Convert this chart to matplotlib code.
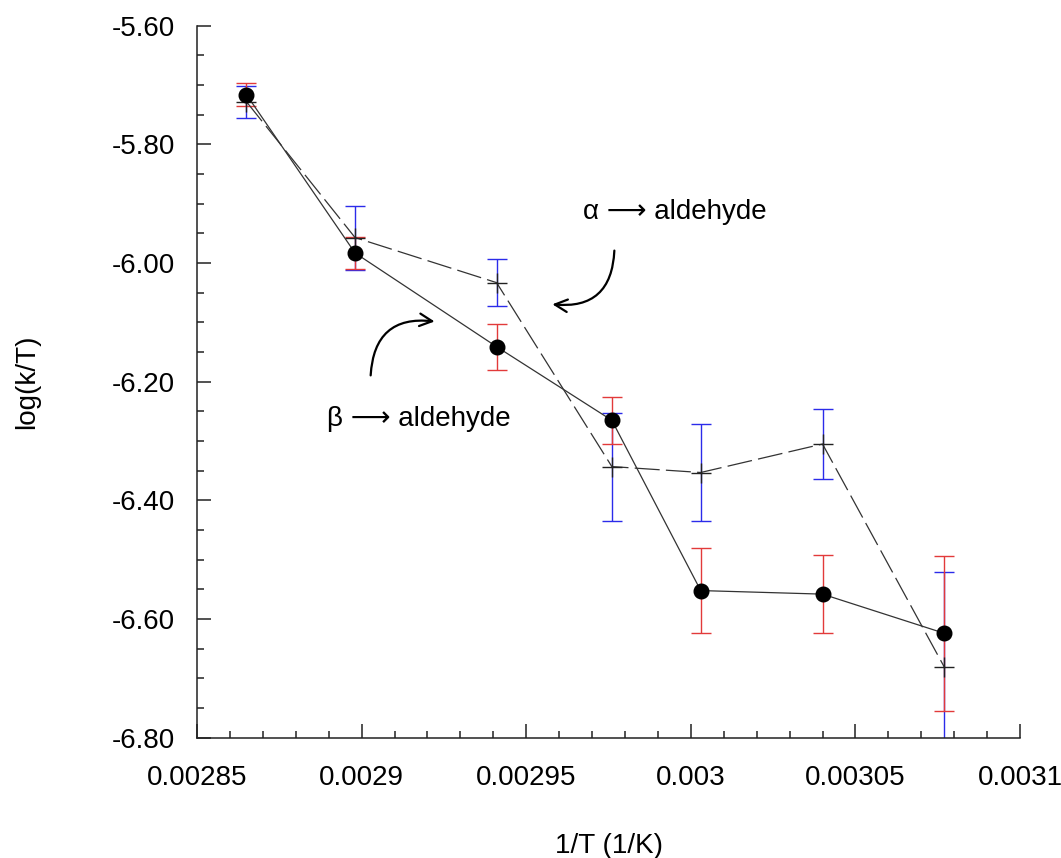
import numpy as np
import matplotlib.pyplot as plt

plt.rcParams['font.family'] = ['Liberation Sans', 'DejaVu Sans']

# 1/T values (1/K)
inv_t = [0.002865, 0.002898, 0.002941, 0.002976, 0.003003, 0.003040, 0.003077]

# beta -> aldehyde (filled circles, solid line, red error bars)
beta_y = [-5.716, -5.983, -6.141, -6.265, -6.552, -6.558, -6.624]
beta_err = [0.019, 0.027, 0.039, 0.040, 0.072, 0.066, 0.131]

# alpha -> aldehyde (plus markers, dashed line, blue error bars)
alpha_y = [-5.728, -5.957, -6.033, -6.343, -6.353, -6.305, -6.681]
alpha_err = [0.027, 0.054, 0.040, 0.091, 0.082, 0.059, 0.160]

x_ticks = [0.00285, 0.0029, 0.00295, 0.003, 0.00305, 0.0031]
x_tick_labels = ['0.00285', '0.0029', '0.00295', '0.003', '0.00305', '0.0031']
y_ticks = [-6.80, -6.60, -6.40, -6.20, -6.00, -5.80, -5.60]

fs = 20

fig = plt.figure(figsize=(10.61, 8.58), dpi=100)
ax = fig.add_axes([0.1857, 0.1402, 0.9614 - 0.1857, 0.970 - 0.1402])

# error bars
ax.errorbar(inv_t, alpha_y, yerr=alpha_err, fmt='none', ecolor='#2b2bea',
            elinewidth=1.0, capsize=7, capthick=1.0, zorder=2)
ax.errorbar(inv_t, beta_y, yerr=beta_err, fmt='none', ecolor='#e23a3a',
            elinewidth=1.0, capsize=7, capthick=1.0, zorder=2)

# lines and markers
ax.plot(inv_t, alpha_y, color='#333333', lw=0.9, dashes=(20, 5), zorder=3)
ax.plot(inv_t, alpha_y, ls='none', marker='+', ms=14, mew=1.0,
        color='#222222', zorder=4)
ax.plot(inv_t, beta_y, color='#333333', lw=0.9, zorder=3)
ax.plot(inv_t, beta_y, ls='none', marker='o', ms=10.5, color='black', zorder=5)

ax.set_xlim(0.00285, 0.0031)
ax.set_ylim(-6.80, -5.60)
ax.set_xticks(x_ticks)
ax.set_xticklabels(x_tick_labels)
ax.set_xticks(np.arange(0.00285, 0.0031, 0.00001), minor=True)
ax.set_yticks(y_ticks)
ax.set_yticklabels([f'{v:.2f}' for v in y_ticks])
ax.set_yticks(np.arange(-6.80, -5.59, 0.05), minor=True)

for side in ['top', 'right']:
    ax.spines[side].set_visible(False)
for side in ['left', 'bottom']:
    ax.spines[side].set_linewidth(1.1)
    ax.spines[side].set_color('#222222')

ax.tick_params(which='major', direction='in', length=10, width=1.1,
               color='#222222', labelsize=fs)
ax.tick_params(which='minor', direction='in', length=5, width=1.1,
               color='#222222')
ax.tick_params(axis='y', which='major', pad=16)
ax.tick_params(axis='x', which='major', pad=20)

ax.set_xlabel('1/T (1/K)', fontsize=fs)
ax.set_ylabel('log(k/T)', fontsize=fs)
ax.xaxis.set_label_coords(0.5, -0.134)
ax.yaxis.set_label_coords(-0.191, 0.5)

# annotations
ax.text(0.0029952, -5.914, 'α \u27f6 aldehyde', fontsize=fs,
        ha='center', va='center')
ax.text(0.0029173, -6.262, 'β \u27f6 aldehyde', fontsize=fs,
        ha='center', va='center')
ax.annotate('', xy=(0.0029571, -6.069), xytext=(0.0029768, -5.9743),
            arrowprops=dict(arrowstyle='->,head_length=0.9,head_width=0.45',
                            lw=1.6, color='black',
                            connectionstyle='arc3,rad=-0.55'))
ax.annotate('', xy=(0.0029230, -6.0990), xytext=(0.0029027, -6.1940),
            arrowprops=dict(arrowstyle='->,head_length=0.9,head_width=0.45',
                            lw=1.6, color='black',
                            connectionstyle='arc3,rad=-0.55'))

fig.savefig('out.png', dpi=100, facecolor='white')
